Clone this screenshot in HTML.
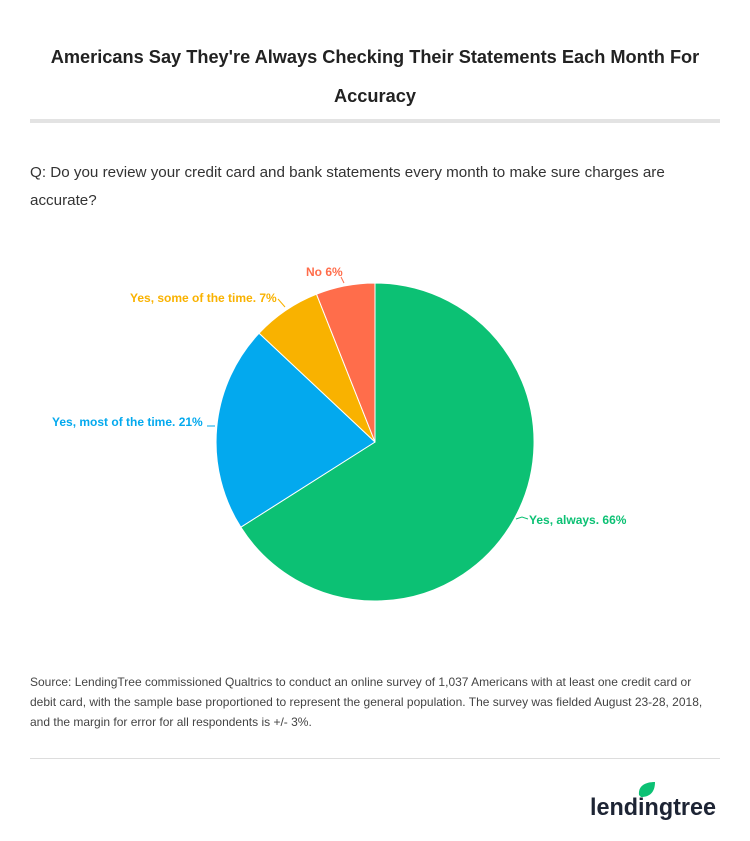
<!DOCTYPE html>
<html><head><meta charset="utf-8"><style>
body{margin:0;width:750px;height:841px;background:#fff;font-family:"Liberation Sans",sans-serif;position:relative;overflow:hidden}
.t{position:absolute;left:30px;width:690px;text-align:center;top:38px;font-size:18.2px;font-weight:bold;color:#222;line-height:39px}
.hr{position:absolute;left:30px;width:690px;top:119px;height:4px;background:#e3e3e3}
.q{position:absolute;left:30px;top:159px;width:680px;font-size:15.2px;color:#333;line-height:28px}
.s{position:absolute;left:30px;top:672px;width:690px;font-size:12px;color:#444;line-height:20px}
.hr2{position:absolute;left:30px;width:690px;top:758px;height:1px;background:#ddd}
</style></head><body>
<div class="t">Americans Say They're Always Checking Their Statements Each Month For Accuracy</div>
<div class="hr"></div>
<div class="q">Q: Do you review your credit card and bank statements every month to make sure charges are accurate?</div>
<svg width="750" height="841" style="position:absolute;left:0;top:0">
<g stroke="#fff" stroke-width="1">
<path d="M375 442 L375 283 A159 159 0 1 1 240.8 527.2 Z" fill="#0CC174"/>
<path d="M375 442 L240.8 527.2 A159 159 0 0 1 259.1 333.2 Z" fill="#03A9EE"/>
<path d="M375 442 L259.1 333.2 A159 159 0 0 1 316.5 294.2 Z" fill="#F9B200"/>
<path d="M375 442 L316.5 294.2 A159 159 0 0 1 375 283 Z" fill="#FF6D4B"/>
</g>
<g font-size="12" font-weight="bold" font-family="Liberation Sans,sans-serif" fill="none" stroke-width="1">
<path d="M516 519 L522 517 L528 519" stroke="#0CC174"/>
<text x="529" y="524" fill="#0CC174" stroke="none">Yes, always. 66%</text>
<path d="M207 426 L215 426" stroke="#03A9EE"/>
<text x="52" y="426" fill="#03A9EE" stroke="none">Yes, most of the time. 21%</text>
<path d="M278 299 L285 307" stroke="#F9B200"/>
<text x="130" y="302" fill="#F9B200" stroke="none">Yes, some of the time. 7%</text>
<path d="M341 277 L344 283" stroke="#FF6D4B"/>
<text x="306" y="276" fill="#FF6D4B" stroke="none">No 6%</text>
</g>
<path d="M639 795 C638 786 645 782 655 782 C655 792 650 797 641 797 Z" fill="#0CC174"/>
<text x="590" y="815" font-family="Liberation Sans,sans-serif" font-size="24" font-weight="bold" fill="#1d2434" textLength="126" lengthAdjust="spacingAndGlyphs">lendingtree</text>
</svg>
<div class="s">Source: LendingTree commissioned Qualtrics to conduct an online survey of 1,037 Americans with at least one credit card or debit card, with the sample base proportioned to represent the general population. The survey was fielded August 23-28, 2018, and the margin for error for all respondents is +/- 3%.</div>
<div class="hr2"></div>
</body></html>
